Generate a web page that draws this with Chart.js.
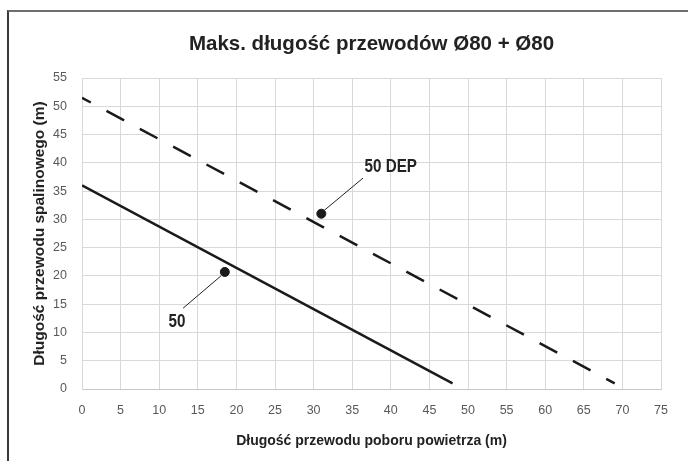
<!DOCTYPE html>
<html lang="pl">
<head>
<meta charset="UTF-8" />
<title>Maks. długość przewodów</title>
<style>
  body { margin: 0; background: #fff; }
  .box { position: relative; width: 688px; height: 461px; }
  .frame {
    position: absolute; left: 7px; top: 10px; right: 0; bottom: 0;
    border-left: 2px solid #3a3a3a; border-top: 2px solid #6e6e6e;
    pointer-events: none;
  }
</style>
</head>
<body>
<div class="box">
  <canvas id="chart" width="688" height="461"></canvas>
  <div class="frame"></div>
</div>
<script src="https://cdn.jsdelivr.net/npm/chart.js@4"></script>
<script>
// line "50": solid, line "50 DEP": dashed
const x50 = [0, 48];
const y50 = [36, 1];
const x50dep = [0, 69];
const y50dep = [51.5, 1];

// callout markers and leader lines (data units)
const markerX = [18.5, 31];
const markerY = [20.7, 31];
const leader50X = [18.0, 13.1];
const leader50Y = [20.0, 14.3];
const leaderDepX = [31.3, 36.4];
const leaderDepY = [31.5, 37.3];
const calloutText = ['50', '50 DEP'];
const calloutX = [12.3, 40.0];
const calloutY = [11.9, 39.3];

const sans = '"Liberation Sans", Arial, sans-serif';

function pts(xs, ys) {
  return xs.map((x, i) => ({ x: x, y: ys[i] }));
}

// callout texts, drawn a bit condensed
const calloutLabels = {
  id: 'calloutLabels',
  afterDatasetsDraw(chart) {
    const ctx = chart.ctx;
    const sx = chart.scales.x, sy = chart.scales.y;
    ctx.save();
    ctx.fillStyle = '#222';
    ctx.font = 'bold 19px ' + sans;
    ctx.textAlign = 'center';
    ctx.textBaseline = 'middle';
    calloutText.forEach((t, i) => {
      ctx.save();
      ctx.translate(sx.getPixelForValue(calloutX[i]), sy.getPixelForValue(calloutY[i]));
      ctx.scale(0.8, 1);
      ctx.fillText(t, 0, 0);
      ctx.restore();
    });
    ctx.restore();
  }
};

new Chart(document.getElementById('chart'), {
  type: 'scatter',
  data: {
    datasets: [
      {
        data: pts(x50, y50), showLine: true, borderColor: '#1a1a1a',
        borderWidth: 2.5, pointRadius: 0
      },
      {
        data: pts(x50dep, y50dep), showLine: true, borderColor: '#1a1a1a',
        borderWidth: 2.5, borderDash: [20, 17.8], borderDashOffset: 10, pointRadius: 0
      },
      {
        data: pts(leader50X, leader50Y), showLine: true, borderColor: '#222',
        borderWidth: 1, pointRadius: 0
      },
      {
        data: pts(leaderDepX, leaderDepY), showLine: true, borderColor: '#222',
        borderWidth: 1, pointRadius: 0
      },
      {
        data: pts(markerX, markerY), showLine: false, pointRadius: 4.5,
        backgroundColor: '#1a1a1a', borderColor: '#1a1a1a'
      }
    ]
  },
  options: {
    responsive: false,
    animation: false,
    layout: { padding: { left: 10, right: 27, top: 10, bottom: 10 } },
    plugins: {
      legend: { display: false },
      tooltip: { enabled: false },
      title: {
        display: true,
        fullSize: false,
        text: 'Maks. długość przewodów Ø80 + Ø80',
        color: '#222',
        font: { family: sans, size: 20.5, weight: 'bold' },
        padding: { top: 22.5, bottom: 20.9 }
      }
    },
    scales: {
      x: {
        type: 'linear', min: 0, max: 75,
        afterFit(scale) { scale.height = 62; },
        ticks: { stepSize: 5, color: '#595959', padding: 14, font: { family: sans, size: 12.5 } },
        grid: { color: '#d9d9d9', drawTicks: false },
        border: { color: '#c8c8c8' },
        title: {
          display: true,
          text: 'Długość przewodu poboru powietrza (m)',
          color: '#222',
          font: { family: sans, size: 14, weight: 'bold' },
          padding: { top: 0, bottom: 1 }
        }
      },
      y: {
        type: 'linear', min: 0, max: 55,
        afterFit(scale) { scale.width = 72; },
        ticks: { stepSize: 5, color: '#595959', padding: 15, font: { family: sans, size: 12.5 } },
        grid: { color: '#d9d9d9', drawTicks: false },
        border: { color: '#d9d9d9' },
        title: {
          display: true,
          text: 'Długość przewodu spalinowego (m)',
          color: '#222',
          font: { family: sans, size: 15.5, weight: 'bold' },
          padding: { top: 20, bottom: 0 }
        }
      }
    }
  },
  plugins: [calloutLabels]
});
</script>
</body>
</html>
